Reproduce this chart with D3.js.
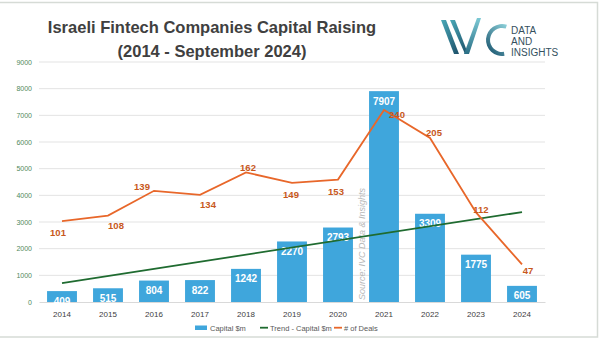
<!DOCTYPE html>
<html>
<head>
<meta charset="utf-8">
<script src="https://cdn.jsdelivr.net/npm/d3@7"></script>
<style>
  body { margin: 0; background: #fff; }
  text { font-family: "Liberation Sans", Arial, sans-serif; }
</style>
</head>
<body>
<svg id="chart" width="602" height="339"></svg>
<script>
// data
const years = ["2014", "2015", "2016", "2017", "2018", "2019", "2020", "2021", "2022", "2023", "2024"]
const capital = [409, 515, 804, 822, 1242, 2270, 2793, 7907, 3309, 1775, 605]
const deals = [101, 108, 139, 134, 162, 149, 153, 240, 205, 112, 47]
const trend = [711, 3371] // linear trend of capital, first & last year
const yTicks = [0, 1000, 2000, 3000, 4000, 5000, 6000, 7000, 8000, 9000]
// where each deals label sits relative to its point [dx, dy]
const dealLabelPos = [[-4, 11], [8, 10], [-12, -4], [8, 10], [2, -5], [-1, 12], [-2, 12], [13, 5], [4, -5], [5, -3], [6, 6]]

const svg = d3.select("#chart")
const LEFT = 39, RIGHT = 545, TOP = 62, BOTTOM = 302

// frame
svg.append("rect")
    .attr("x", -2).attr("y", 2.5)
    .attr("width", 599.5).attr("height", 334.5)
    .style("fill", "none")
    .style("stroke", "#d6dbd6")
    .style("stroke-width", 1.5)

// title
const titleLines = ["Israeli Fintech Companies Capital Raising", "(2014 - September 2024)"]
titleLines.forEach((t, i) => {
    svg.append("text")
        .text(t)
        .attr("x", 212).attr("y", 33 + i * 24)
        .style("text-anchor", "middle")
        .style("font-size", "16.5px")
        .style("font-weight", "bold")
        .style("fill", "#404040")
})

// logo
let defs = svg.append("defs")
let g1 = defs.append("linearGradient").attr("id", "lg1")
    .attr("x1", 0).attr("y1", 0).attr("x2", 1).attr("y2", 1)
g1.append("stop").attr("offset", "0%").attr("stop-color", "#4aa9b8")
g1.append("stop").attr("offset", "100%").attr("stop-color", "#1c4f68")
let g2 = defs.append("linearGradient").attr("id", "lg2")
    .attr("x1", 0).attr("y1", 1).attr("x2", 0).attr("y2", 0)
g2.append("stop").attr("offset", "0%").attr("stop-color", "#2a6f86")
g2.append("stop").attr("offset", "100%").attr("stop-color", "#7cc9d4")
let g3 = defs.append("linearGradient").attr("id", "lg3")
    .attr("x1", 1).attr("y1", 0).attr("x2", 0.3).attr("y2", 1)
g3.append("stop").attr("offset", "0%").attr("stop-color", "#8fd3dc")
g3.append("stop").attr("offset", "100%").attr("stop-color", "#1f5a73")

let logo = svg.append("g")
logo.append("path")
    .attr("d", "M441,20 L446,20 L459,54 L454,54 Z")
    .style("fill", "url(#lg1)")
logo.append("path")
    .attr("d", "M450,20 L455,20 L467,51 L465,54 Z")
    .style("fill", "url(#lg1)")
logo.append("path")
    .attr("d", "M464,54 L469,54 L481,18 L477,18 Z")
    .style("fill", "url(#lg2)")
let arc = d3.arc()
    .innerRadius(12)
    .outerRadius(16)
    .startAngle(Math.PI * 0.1)
    .endAngle(-Math.PI * 1.05)
logo.append("path")
    .attr("transform", "translate(502,40)")
    .attr("d", arc())
    .style("fill", "url(#lg3)")
const logoWords = ["DATA", "AND", "INSIGHTS"]
logoWords.forEach((w, i) => {
    svg.append("text")
        .text(w)
        .attr("x", 511).attr("y", 34 + i * 11)
        .style("font-size", "10px")
        .style("fill", "#34505e")
})

// scales
let xs = d3.scaleBand()
    .domain(years)
    .range([LEFT, RIGHT])
    .paddingInner(0.35)
    .paddingOuter(0.175)
let ys = d3.scaleLinear().domain([0, 9000]).range([BOTTOM, TOP])
let ys2 = d3.scaleLinear().domain([0, 300]).range([BOTTOM, TOP])
const cx = d => xs(d) + xs.bandwidth() / 2

// grid
svg.append("g")
    .selectAll("line")
    .data(yTicks.slice(1))
    .enter()
    .append("line")
    .attr("x1", LEFT).attr("x2", RIGHT)
    .attr("y1", d => ys(d)).attr("y2", d => ys(d))
    .style("stroke", "#e3e3e3")
    .style("stroke-width", 1)

// y axis labels
let yAxis = svg.append("g")
    .attr("transform", `translate(${LEFT},0)`)
    .call(d3.axisLeft(ys).tickValues(yTicks).tickFormat(d3.format("d")).tickSize(0).tickPadding(7))
yAxis.select(".domain").remove()
yAxis.selectAll("text")
    .style("font-size", "7px")
    .style("fill", "#4f8a5c")
    .style("font-family", "Liberation Sans, Arial, sans-serif")

// bars
svg.append("g")
    .selectAll("rect")
    .data(capital)
    .enter()
    .append("rect")
    .attr("x", (d, i) => xs(years[i]))
    .attr("y", d => ys(d))
    .attr("width", xs.bandwidth())
    .attr("height", d => BOTTOM - ys(d))
    .style("fill", "#3fa6dc")

// x axis
let xAxis = svg.append("g")
    .attr("transform", `translate(0,${BOTTOM})`)
    .call(d3.axisBottom(xs).tickSize(0).tickPadding(9))
xAxis.select(".domain").style("stroke", "#d9d9d9")
xAxis.selectAll("text")
    .style("font-size", "8px")
    .style("fill", "#404040")
    .style("font-family", "Liberation Sans, Arial, sans-serif")

// bar labels
svg.append("g")
    .selectAll("text")
    .data(capital)
    .enter()
    .append("text")
    .text(d => d)
    .attr("x", (d, i) => cx(years[i]))
    .attr("y", d => ys(d) + 10)
    .attr("dy", "0.35em")
    .style("text-anchor", "middle")
    .style("font-size", "10px")
    .style("font-weight", "bold")
    .style("fill", "#ffffff")

// source note
svg.append("text")
    .text("Source: IVC Data & Insights")
    .attr("transform", "translate(365,300) rotate(-90)")
    .style("font-size", "9px")
    .style("font-style", "italic")
    .style("fill", "#b8b8b8")

// trend line
svg.append("line")
    .attr("x1", cx(years[0])).attr("y1", ys(trend[0]))
    .attr("x2", cx(years[years.length - 1])).attr("y2", ys(trend[1]))
    .style("stroke", "#1f6b30")
    .style("stroke-width", 1.8)

// deals line
let line = d3.line()
    .x((d, i) => cx(years[i]))
    .y(d => ys2(d))
svg.append("path")
    .datum(deals)
    .attr("d", line)
    .style("fill", "none")
    .style("stroke", "#e8672a")
    .style("stroke-width", 1.8)

svg.append("g")
    .selectAll("text")
    .data(deals)
    .enter()
    .append("text")
    .text(d => d)
    .attr("x", (d, i) => cx(years[i]) + dealLabelPos[i][0])
    .attr("y", (d, i) => ys2(d) + dealLabelPos[i][1])
    .attr("dy", "0.35em")
    .style("text-anchor", "middle")
    .style("font-size", "9.5px")
    .style("font-weight", "bold")
    .style("fill", "#c8581c")

// legend
const legendItems = [
    { name: "Capital $m", x: 195, type: "rect", color: "#3fa6dc" },
    { name: "Trend - Capital $m", x: 260, type: "line", color: "#1f6b30" },
    { name: "# of Deals", x: 334, type: "line", color: "#e8672a" }
]
let lg = svg.append("g")
legendItems.forEach(it => {
    if (it.type === "rect") {
        lg.append("rect")
            .attr("x", it.x).attr("y", 325.5)
            .attr("width", 12).attr("height", 4.5)
            .style("fill", it.color)
    } else {
        lg.append("line")
            .attr("x1", it.x).attr("x2", it.x + 8)
            .attr("y1", 327.7).attr("y2", 327.7)
            .style("stroke", it.color)
            .style("stroke-width", 1.8)
    }
    lg.append("text")
        .text(it.name)
        .attr("x", it.x + (it.type === "rect" ? 15 : 10))
        .attr("y", 330.5)
        .style("font-size", "7.5px")
        .style("fill", "#595959")
})
</script>
</body>
</html>
